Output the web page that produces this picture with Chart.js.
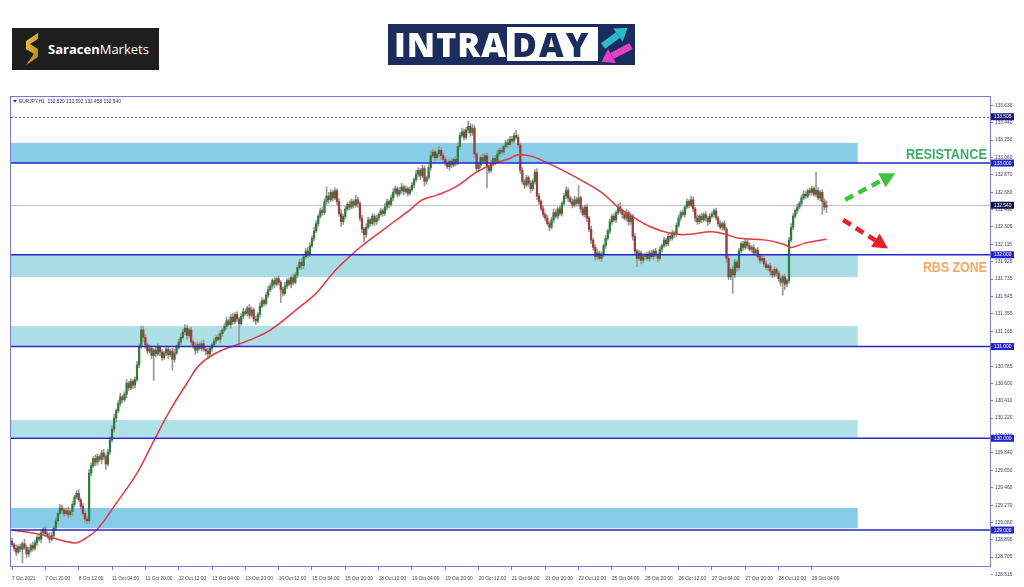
<!DOCTYPE html>
<html>
<head>
<meta charset="utf-8">
<script src="https://cdn.jsdelivr.net/npm/chart.js@4.4.0/dist/chart.umd.min.js"></script>
<style>
  html, body { margin: 0; padding: 0; background: #fff; }
  #wrap { position: relative; width: 1024px; height: 587px; overflow: hidden; }
  #chart { position: absolute; left: 0; top: 0; }
  .saracen { position: absolute; left: 12px; top: 28px; width: 147px; height: 42px; background: #1e1e1e; }
  .saracen svg { position: absolute; left: 9px; top: 5px; }
  .saracen span.name { position: absolute; left: 36px; top: 12px; font: 700 13px 'Open Sans', sans-serif; color: #fff; white-space: nowrap; }
  .saracen span.name b { font-weight: 400; }
  .intraday { position: absolute; left: 388px; top: 24px; width: 247px; height: 41px; background: #1b2d5c; }
  .intraday .intra { position: absolute; left: 6px; top: -3px; font: 800 34px 'Open Sans', sans-serif; color: #fff; letter-spacing: 1px; }
  .intraday .daybox { position: absolute; left: 119px; top: 3px; width: 91px; height: 34px; background: #fff; }
  .intraday .day { position: absolute; left: 5px; top: -6px; font: 800 34px 'Open Sans', sans-serif; color: #1b2d5c; letter-spacing: 2px; }
  .intraday svg { position: absolute; left: 0; top: 0; }
</style>
</head>
<body>
<div id="wrap">
  <canvas id="chart" width="1024" height="587"></canvas>
  <div class="saracen">
    <svg width="22" height="34" viewBox="0 0 22 34">
      <defs>
        <linearGradient id="gold" x1="0" y1="0" x2="1" y2="1">
          <stop offset="0" stop-color="#f7c948"/>
          <stop offset="1" stop-color="#b07d12"/>
        </linearGradient>
      </defs>
      <path d="M17 0 L5 8 L5 16 L13 21 L5 32 L17 24 L17 16 L9 11 L17 6 Z" fill="url(#gold)"/>
    </svg>
    <span class="name">Saracen<b>Markets</b></span>
  </div>
  <div class="intraday">
    <span class="intra">INTRA</span>
    <div class="daybox"><span class="day">DAY</span></div>
    <svg width="247" height="41" viewBox="0 0 247 41">
      <line x1="215" y1="22" x2="230" y2="11" stroke="#27bcc9" stroke-width="7"/>
      <polygon points="239.6,3.8 234.8,17.4 225.2,4.6" fill="#27bcc9"/>
      <line x1="243" y1="22" x2="224" y2="32" stroke="#e23fc6" stroke-width="7"/>
      <polygon points="213.5,37.8 227.9,39.0 220.1,25.0" fill="#e23fc6"/>
    </svg>
  </div>
</div>
<script>
// EURJPY H1

const tickLabels = ['7 Oct 2021', '7 Oct 20:00', '8 Oct 12:00', '11 Oct 04:00', '11 Oct 20:00',
  '12 Oct 12:00', '13 Oct 04:00', '13 Oct 20:00', '14 Oct 12:00', '15 Oct 04:00', '15 Oct 20:00',
  '18 Oct 12:00', '19 Oct 04:00', '19 Oct 20:00', '20 Oct 12:00', '21 Oct 04:00', '21 Oct 20:00',
  '22 Oct 12:00', '25 Oct 04:00', '25 Oct 20:00', '26 Oct 12:00', '27 Oct 04:00', '27 Oct 20:00',
  '28 Oct 12:00', '29 Oct 04:00'];
const barsPerLabel = 16;

const yTicks = [133.630, 133.440, 133.250, 133.060, 132.870, 132.680, 132.490, 132.305, 132.115,
  131.925, 131.735, 131.545, 131.355, 131.165, 130.975, 130.785, 130.600, 130.410, 130.220, 130.030,
  129.840, 129.650, 129.460, 129.270, 129.080, 128.895, 128.705, 128.515];

const firstOpen = 128.88;
const closes = [
  128.84, 128.80, 128.76, 128.82, 128.79, 128.85, 128.81, 128.74, 128.78, 128.83, 128.80, 128.86, 128.92, 128.90, 128.97, 129.01,
  128.96, 128.93, 128.90, 128.94, 129.02, 129.10, 129.18, 129.24, 129.22, 129.18, 129.21, 129.17, 129.20, 129.28, 129.36, 129.40,
  129.33, 129.26, 129.18, 129.12, 129.10, 129.62, 129.70, 129.78, 129.74, 129.80, 129.77, 129.84, 129.80, 129.72, 129.85, 129.98,
  130.10, 130.22, 130.30, 130.38, 130.45, 130.42, 130.48, 130.60, 130.55, 130.62, 130.58, 130.64, 130.80, 131.00, 131.18, 131.10,
  131.02, 130.95, 130.98, 130.90, 130.96, 130.92, 130.99, 130.94, 130.88, 130.93, 130.97, 130.91, 130.95, 130.86, 130.93, 130.99,
  131.05, 131.10, 131.16, 131.20, 131.12, 131.18, 131.05, 131.00, 130.96, 131.02, 130.98, 131.03, 130.97, 130.95, 130.92, 130.98,
  131.02, 131.06, 131.10, 131.08, 131.14, 131.18, 131.22, 131.28, 131.24, 131.32, 131.27, 131.35, 131.30, 131.25, 131.33, 131.38,
  131.36, 131.42, 131.34, 131.40, 131.30, 131.28, 131.35, 131.44, 131.50, 131.47, 131.56, 131.62, 131.66, 131.72, 131.68, 131.74,
  131.70, 131.62, 131.58, 131.66, 131.72, 131.68, 131.75, 131.70, 131.78, 131.86, 131.92, 131.88, 131.98, 132.04, 132.00, 132.10,
  132.18, 132.26, 132.34, 132.42, 132.48, 132.46, 132.58, 132.64, 132.60, 132.68, 132.62, 132.70, 132.58, 132.45, 132.36, 132.42,
  132.50, 132.55, 132.52, 132.58, 132.54, 132.60, 132.56, 132.40, 132.28, 132.22, 132.30, 132.38, 132.34, 132.42, 132.36, 132.40,
  132.44, 132.48, 132.45, 132.52, 132.58, 132.55, 132.62, 132.68, 132.72, 132.66, 132.70, 132.74, 132.69, 132.72, 132.67, 132.71,
  132.76, 132.82, 132.88, 132.92, 132.86, 132.94, 132.80, 132.84, 132.95, 133.08, 133.12, 133.06, 133.10, 133.14, 133.08, 133.04,
  133.00, 132.96, 133.02, 132.98, 133.04, 133.00, 133.18, 133.30, 133.34, 133.28, 133.36, 133.40, 133.33, 133.38, 133.10, 132.94,
  132.98, 133.06, 133.02, 133.08, 132.96, 132.92, 133.00, 133.05, 133.02, 133.10, 133.14, 133.12, 133.18, 133.22, 133.20, 133.26,
  133.24, 133.30, 133.28, 133.20, 132.92, 132.80, 132.76, 132.84, 132.78, 132.72, 132.80, 132.90, 132.64, 132.58, 132.50, 132.44,
  132.40, 132.34, 132.30, 132.38, 132.46, 132.42, 132.50, 132.45, 132.56, 132.64, 132.70, 132.62, 132.58, 132.54, 132.60, 132.56,
  132.62, 132.50, 132.44, 132.52, 132.40, 132.28, 132.16, 132.08, 131.98, 132.02, 131.96, 132.00, 132.10, 132.18, 132.26, 132.36,
  132.42, 132.38, 132.46, 132.52, 132.48, 132.44, 132.40, 132.46, 132.36, 132.42, 132.20, 132.04, 131.96, 132.02, 131.94, 131.98,
  132.00, 131.96, 132.02, 131.98, 132.04, 132.00, 131.96, 132.06, 132.10, 132.16, 132.12, 132.20, 132.18, 132.24, 132.22, 132.32,
  132.40, 132.46, 132.44, 132.52, 132.58, 132.54, 132.60, 132.50, 132.40, 132.36, 132.42, 132.38, 132.44, 132.40, 132.36, 132.42,
  132.44, 132.48, 132.40, 132.34, 132.30, 132.34, 132.28, 131.96, 131.76, 131.84, 131.78, 131.92, 131.86, 132.04, 132.12, 132.08,
  132.14, 132.10, 132.06, 132.08, 132.02, 132.05, 131.98, 131.94, 131.96, 131.90, 131.86, 131.88, 131.82, 131.78, 131.84, 131.80,
  131.74, 131.70, 131.76, 131.68, 131.72, 132.16, 132.30, 132.42, 132.48, 132.52, 132.56, 132.62, 132.66, 132.64, 132.70, 132.68,
  132.72, 132.66, 132.70, 132.62, 132.68, 132.58, 132.52, 132.54
];
// wick lengths in hundredths of a yen, above and below the body
const upWick = [
  3,2,4,2,3,2,5,2,3,2,4,3,2,4,3,2,  3,2,4,3,2,3,2,4,3,2,3,4,2,3,2,3,
  4,2,3,2,3,4,3,2,4,3,2,3,4,2,3,4,  3,4,2,3,4,2,3,4,2,3,2,3,4,3,4,4,
  3,2,4,3,2,3,4,2,3,2,4,3,2,3,4,3,  3,4,3,4,3,2,3,2,4,3,2,3,4,2,3,2,
  2,3,2,4,3,2,3,4,2,3,4,2,3,2,3,4,  3,2,4,3,2,3,2,4,3,2,3,4,3,2,3,2,
  3,2,3,4,2,3,2,4,3,2,3,4,2,3,4,3,  3,4,3,2,3,4,3,10,4,3,2,3,2,3,4,2,
  3,2,4,3,2,5,3,2,3,2,4,3,2,3,2,3,  2,3,2,4,3,2,3,4,3,2,3,4,2,3,2,3,
  3,2,4,3,2,4,3,2,3,4,3,2,3,4,2,3,  2,3,2,3,2,3,4,3,4,3,3,6,3,4,3,2,
  3,2,4,2,3,2,3,2,3,4,2,3,2,3,4,3,  3,3,6,3,2,3,2,3,2,3,2,3,4,3,2,3,
  2,3,2,3,4,3,2,3,2,3,4,3,2,3,4,3,  14,2,3,2,3,2,3,2,3,4,2,3,2,3,2,3,
  2,3,2,3,5,2,3,4,2,3,2,3,2,3,2,3,  2,3,2,3,2,3,2,3,2,3,2,3,2,3,2,3,
  3,2,3,2,3,2,4,3,2,3,2,3,2,3,2,3,  3,2,3,2,3,2,3,2,3,2,4,3,2,3,2,3,
  3,2,3,2,3,2,3,2,3,2,3,2,3,2,3,2,  2,3,2,3,2,3,4,3,2,3,2,3,4,3,2,3,
  3,2,20,3,2,3,3,5
];
const downWick = [
  2,3,4,2,3,15,2,4,3,2,3,2,3,2,4,2,  3,2,4,2,3,2,3,2,4,3,2,3,2,4,3,2,
  2,3,2,4,3,2,3,2,4,3,2,5,3,6,2,3,  2,3,4,2,3,3,2,4,3,2,4,3,2,3,2,5,
  4,3,2,3,27,3,2,4,3,2,3,4,2,12,3,2,  2,3,2,3,4,2,3,2,4,3,2,3,2,4,5,2,
  3,2,3,2,4,3,2,3,2,4,3,2,3,25,2,3,  2,3,4,2,3,4,2,3,2,3,2,3,2,3,4,2,
  3,14,3,2,3,2,4,3,2,3,2,4,3,2,3,2,  2,3,2,3,2,3,2,3,4,2,3,2,4,3,5,3,
  3,2,3,2,3,2,4,3,4,8,3,2,3,2,4,3,  3,2,3,2,3,4,2,3,2,3,2,3,4,2,3,2,
  2,3,2,3,4,2,5,3,2,3,2,3,2,3,4,3,  3,2,4,3,2,3,2,3,2,3,2,3,4,3,4,3,
  4,3,2,3,23,3,2,3,4,2,3,2,3,2,3,2,  2,3,2,3,4,3,4,2,3,4,2,3,4,3,2,3,
  3,2,4,2,3,2,3,2,3,2,3,4,2,3,2,3,  3,4,2,3,4,3,4,3,4,3,2,3,2,3,2,3,
  3,2,3,2,3,4,2,3,4,3,4,3,9,2,4,3,  3,2,3,2,3,2,4,2,3,2,3,2,3,2,3,2,
  2,3,2,3,2,3,2,3,4,3,2,3,2,3,4,2,  2,3,2,3,2,3,2,4,3,3,20,3,4,3,2,3,
  2,3,2,3,2,3,2,3,2,3,2,3,4,3,2,3,  3,4,14,6,3,3,2,3,2,3,2,3,2,3,2,3,
  3,2,3,2,3,14,3,6
];

// red moving average, read at a few bars
const maIdx = [0, 14, 30, 36, 41, 50, 60, 68, 76, 84, 90, 98, 108, 114, 124, 138, 146, 154, 162, 167,
  178, 191, 197, 204, 213, 223, 232, 239, 243, 250, 259, 267, 275, 283, 291, 299, 307, 315, 323,
  336, 343, 349, 362, 371, 374, 381, 391];
const maVal = [129.00, 128.95, 128.86, 128.92, 129.01, 129.29, 129.62, 129.97, 130.31, 130.60, 130.80,
  130.93, 131.02, 131.07, 131.18, 131.43, 131.58, 131.80, 131.98, 132.08, 132.27, 132.49, 132.60,
  132.65, 132.74, 132.90, 133.00, 133.05, 133.09, 133.07, 132.98, 132.89, 132.79, 132.68, 132.52,
  132.40, 132.30, 132.24, 132.22, 132.25, 132.22, 132.18, 132.16, 132.11, 132.08, 132.13, 132.17];

const levels = [133, 132, 131, 130, 129];
const zoneLow = [133.00, 131.757, 131.00, 130.01, 129.02];
const zoneHigh = [133.22, 132.00, 131.223, 130.20, 129.24];
const zoneEnd = 406;
const lastPrice = 132.54;
const dayHigh = 133.505;
const tagValues = [133.505, 133.000, 132.540, 132.000, 131.000, 130.000, 129.000];
const headerText = 'EURJPY,H1  132.520 132.592 132.458 132.540';

// arrows and notes, placed in bar/price units
const upArrow = [[400, 132.60], [424, 132.89]];
const downArrow = [[399, 132.38], [420.5, 132.07]];
const notes = [
  { text: 'RESISTANCE', at: [468, 133.087], width: 81, color: '#40ad6b' },
  { text: 'RBS ZONE', at: [468, 131.856], width: 64, color: '#f5a862' }
];

const bodies = [];
const wicks = [];
closes.forEach((c, i) => {
  const o = i === 0 ? firstOpen : closes[i - 1];
  bodies.push({ x: i, y: [o, c] });
  wicks.push({ x: i, y: [Math.min(o, c) - downWick[i] / 100, Math.max(o, c) + upWick[i] / 100] });
});
const maLine = maIdx.map((x, k) => ({ x, y: maVal[k] }));

const FONT = "'Liberation Sans', Arial, sans-serif";
const frameColor = '#7b7bd4';

function dashedArrow(ctx, p0, p1, color) {
  const dx = p1[0] - p0[0], dy = p1[1] - p0[1];
  const len = Math.hypot(dx, dy);
  const ux = dx / len, uy = dy / len;
  const bx = p1[0] - ux * 15, by = p1[1] - uy * 15;
  ctx.strokeStyle = color;
  ctx.lineWidth = 4.5;
  ctx.setLineDash([9, 6]);
  ctx.beginPath();
  ctx.moveTo(p0[0], p0[1]);
  ctx.lineTo(bx, by);
  ctx.stroke();
  ctx.setLineDash([]);
  ctx.fillStyle = color;
  ctx.beginPath();
  ctx.moveTo(p1[0], p1[1]);
  ctx.lineTo(bx - uy * 8, by + ux * 8);
  ctx.lineTo(bx + uy * 8, by - ux * 8);
  ctx.closePath();
  ctx.fill();
}

const overlay = {
  id: 'overlay',
  beforeDatasetsDraw(chart) {
    const { ctx, chartArea: a, scales: { x, y } } = chart;
    ctx.save();
    const zoneColors = ['#86cde6', '#a9dde6', '#addfe7', '#b0e0e8', '#86cbe8'];
    zoneLow.forEach((lo, k) => {
      const top = y.getPixelForValue(zoneHigh[k]);
      const bot = y.getPixelForValue(lo);
      ctx.fillStyle = zoneColors[k];
      ctx.fillRect(a.left, top, x.getPixelForValue(zoneEnd) - a.left, bot - top);
    });
    const py = Math.round(y.getPixelForValue(lastPrice)) + 0.5;
    ctx.strokeStyle = '#c4c4c4';
    ctx.lineWidth = 1;
    ctx.beginPath();
    ctx.moveTo(a.left, py);
    ctx.lineTo(a.right, py);
    ctx.stroke();
    const pd = Math.round(y.getPixelForValue(dayHigh)) + 0.5;
    ctx.strokeStyle = '#6a6a9a';
    ctx.setLineDash([2, 2]);
    ctx.beginPath();
    ctx.moveTo(a.left, pd);
    ctx.lineTo(a.right, pd);
    ctx.stroke();
    ctx.restore();
  },
  afterDatasetsDraw(chart) {
    const { ctx, chartArea: a, scales: { x, y } } = chart;
    ctx.save();
    ctx.strokeStyle = '#2626cc';
    ctx.lineWidth = 1.6;
    levels.forEach(v => {
      const py = y.getPixelForValue(v);
      ctx.beginPath();
      ctx.moveTo(a.left, py);
      ctx.lineTo(a.right, py);
      ctx.stroke();
    });
    const toPx = p => [x.getPixelForValue(p[0]), y.getPixelForValue(p[1])];
    dashedArrow(ctx, toPx(upArrow[0]), toPx(upArrow[1]), '#3cc43c');
    dashedArrow(ctx, toPx(downArrow[0]), toPx(downArrow[1]), '#e8202a');
    notes.forEach(n => {
      const [px, py] = toPx(n.at);
      ctx.font = 'bold 15px ' + FONT;
      ctx.fillStyle = n.color;
      ctx.textBaseline = 'middle';
      ctx.textAlign = 'left';
      const w = ctx.measureText(n.text).width;
      ctx.save();
      ctx.translate(px - n.width, py);
      ctx.scale(n.width / w, 1);
      ctx.fillText(n.text, 0, 0);
      ctx.restore();
    });
    ctx.restore();
  },
  afterDraw(chart) {
    const { ctx, chartArea: a, scales: { y } } = chart;
    ctx.save();
    ctx.strokeStyle = frameColor;
    ctx.lineWidth = 1;
    ctx.strokeRect(a.left - 0.5, a.top - 0.5, a.right - a.left + 1, a.bottom - a.top + 1);
    ctx.font = '4.8px ' + FONT;
    ctx.textBaseline = 'middle';
    ctx.textAlign = 'left';
    tagValues.forEach(v => {
      const py = y.getPixelForValue(v);
      ctx.fillStyle = v === dayHigh ? '#1a1a78' : v === lastPrice ? '#10104a' : '#2424c8';
      ctx.fillRect(a.right + 1, py - 3.5, 23, 7);
      ctx.fillStyle = '#fff';
      ctx.fillText(v.toFixed(3), a.right + 4, py + 0.3);
    });
    ctx.fillStyle = '#2a2a50';
    ctx.beginPath();
    ctx.moveTo(a.left + 2, a.top + 3);
    ctx.lineTo(a.left + 6, a.top + 3);
    ctx.lineTo(a.left + 4, a.top + 5.5);
    ctx.closePath();
    ctx.fill();
    ctx.fillText(headerText, a.left + 8, a.top + 4.3);
    ctx.restore();
  }
};

new Chart(document.getElementById('chart'), {
  type: 'bar',
  data: {
    datasets: [
      {
        type: 'line',
        data: maLine,
        borderColor: '#e0393e',
        borderWidth: 1.5,
        pointRadius: 0,
        tension: 0.4,
        order: 0
      },
      {
        data: bodies,
        grouped: false,
        barThickness: 1.6,
        minBarLength: 1,
        backgroundColor: c => (c.raw.y[1] >= c.raw.y[0] ? '#2e7d3a' : '#a03c3c'),
        order: 1
      },
      {
        data: wicks,
        grouped: false,
        barThickness: 1,
        backgroundColor: '#9a9a9a',
        order: 2
      }
    ]
  },
  options: {
    responsive: false,
    animation: false,
    events: [],
    layout: { padding: { left: 11, top: 97, right: 0, bottom: 0 } },
    plugins: { legend: { display: false }, tooltip: { enabled: false } },
    scales: {
      x: {
        type: 'linear',
        offset: false,
        min: -0.5,
        max: 469.5,
        bounds: 'data',
        afterBuildTicks: s => { s.ticks = tickLabels.map((_, k) => ({ value: k * barsPerLabel })); },
        afterFit: s => { s.height = 21; },
        grid: { drawOnChartArea: false, offset: false, tickLength: 4, color: frameColor },
        border: { color: frameColor },
        ticks: {
          autoSkip: false,
          maxRotation: 0,
          align: 'start',
          padding: 6,
          color: '#3a3a5c',
          font: { family: FONT, size: 4.8 },
          callback: v => tickLabels[v / barsPerLabel]
        }
      },
      y: {
        position: 'right',
        min: 128.608,
        max: 133.72,
        bounds: 'data',
        afterBuildTicks: s => { s.ticks = yTicks.map(v => ({ value: v })); },
        afterFit: s => { s.width = 34; },
        grid: { drawOnChartArea: false, tickLength: 3, color: frameColor },
        border: { color: frameColor },
        ticks: {
          autoSkip: false,
          crossAlign: 'near',
          padding: 2,
          color: '#3a3a5c',
          font: { family: FONT, size: 4.8 },
          callback: v => v.toFixed(3)
        }
      }
    }
  },
  plugins: [overlay]
});
</script>
</body>
</html>
